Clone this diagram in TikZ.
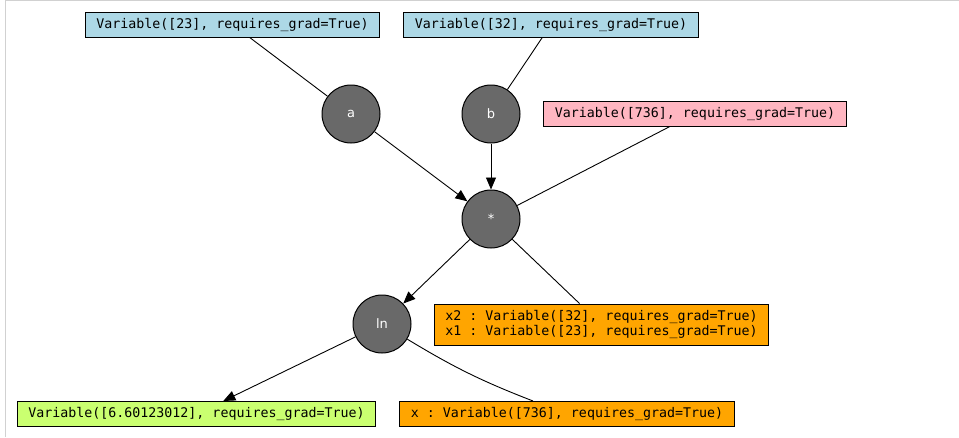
\documentclass[tikz,border=0pt]{standalone}
\usepackage{fontspec}
\setmonofont{DejaVu Sans Mono}
\setsansfont{DejaVu Sans}
\usetikzlibrary{positioning,arrows.meta}

\definecolor{leafblue}{HTML}{ADD8E6}
\definecolor{leafpink}{HTML}{FFB6C1}
\definecolor{gradorange}{HTML}{FFA500}
\definecolor{outgreen}{HTML}{CAFF70}
\definecolor{opgray}{HTML}{696969}

\begin{document}
\begin{tikzpicture}[x=1pt,y=-1pt,
  var/.style={draw, line width=1pt, inner xsep=11pt, inner ysep=0pt, minimum height=25pt,
    font=\fontsize{13.3}{15}\selectfont\ttfamily},
  op/.style={circle, draw, line width=1pt, fill=opgray, minimum size=58pt, inner sep=0pt,
    text=white, font=\fontsize{13}{15}\selectfont\sffamily},
  edge/.style={line width=0.9pt},
  flow/.style={edge, -{Triangle[length=12pt,width=10pt]}}]

\useasboundingbox (0,0) rectangle (959,437);
%Frame
\draw [black!18, line width=1pt] (5,437) -- (5,0.5) -- (959,0.5);

% Leaf Variables
\node [var, fill=leafblue] (va) at (232.5,24.5) {Variable([23], requires\_grad=True)};
\node [var, fill=leafblue] (vb) at (551,24.5) {Variable([32], requires\_grad=True)};
\node [var, fill=leafpink] (vc) at (695,113.5) {Variable([736], requires\_grad=True)};

% Operations
\node [op] (a) at (351,114) {a};
\node [op] (b) at (491,114) {b};
\node [op] (mul) at (491,219) {*};
\node [op] (ln) at (382,324) {ln};

% Gradient and output nodes
\node [var, fill=gradorange, minimum height=41pt, align=left] (grads) at (601.5,324.5)
  {x2 : Variable([32], requires\_grad=True)\\x1 : Variable([23], requires\_grad=True)};
\node [var, fill=outgreen] (out) at (196.5,414) {Variable([6.60123012], requires\_grad=True)};
\node [var, fill=gradorange] (xv) at (567,414) {x : Variable([736], requires\_grad=True)};

%Straight Lines
\draw [edge] (va) -- (a);
\draw [edge] (vb) -- (b);
\draw [flow] (a) -- (mul);
\draw [flow] (b) -- (mul);
\draw [edge] (vc) -- (mul);
\draw [flow] (mul) -- (ln);
\draw [edge] (mul) -- (grads);
\draw [flow] (ln) -- (out);
\draw [edge] (ln) to [bend right=5] (xv);

\end{tikzpicture}
\end{document}
